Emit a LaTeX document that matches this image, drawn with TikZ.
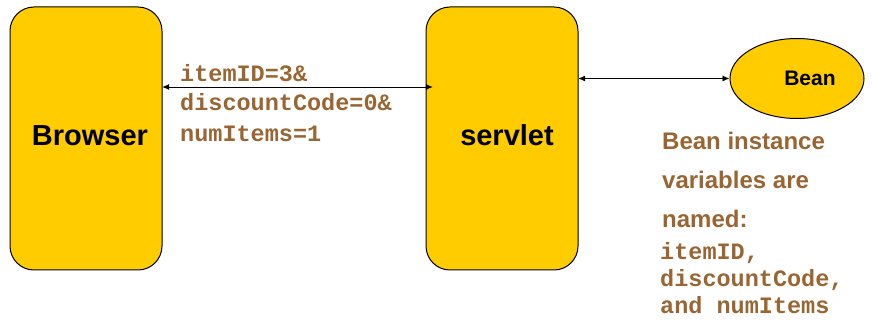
\documentclass[tikz,border=0pt]{standalone}
\usepackage{fontspec}
\setmainfont{Liberation Sans}
\newfontfamily\codefont{Liberation Mono}
\usetikzlibrary{arrows.meta,shapes.geometric}
\definecolor{boxyellow}{HTML}{FFCC00}
\definecolor{textbrown}{HTML}{996633}
\tikzset{
  compbox/.style={draw=black, line width=1pt, fill=boxyellow, rounded corners=24pt},
  biarrow/.style={{Latex[length=7pt,width=6pt]}-{Latex[length=7pt,width=6pt]}, line width=0.9pt},
  codetext/.style={text=textbrown, font=\codefont\bfseries\fontsize{23.5}{30}\selectfont, anchor=base west, inner sep=0pt},
  notetext/.style={text=textbrown, font=\bfseries\fontsize{24}{39}\selectfont, anchor=base west, inner sep=0pt},
}
\begin{document}
\begin{tikzpicture}[x=1pt,y=-1pt]
\useasboundingbox (0,0) rectangle (875,320);
\draw[compbox] (10,7) rectangle (162,270);
\node (browser) at (86,138.5) [minimum width=152pt, minimum height=263pt, inner sep=0pt] {};
\node[font=\bfseries\fontsize{29}{29}\selectfont] at (90,136) {Browser};
\draw[compbox] (426,7) rectangle (578,270);
\node (servlet) at (502,138.5) [minimum width=152pt, minimum height=263pt, inner sep=0pt] {};
\node[font=\bfseries\fontsize{29}{29}\selectfont] at (507,135) {servlet};
\node (bean) [ellipse, draw=black, line width=1pt, fill=boxyellow, minimum width=134pt, minimum height=80pt, inner sep=0pt] at (797,78.5) {};
\node[font=\bfseries\fontsize{21}{21}\selectfont] at (810,78) {Bean};
\draw[biarrow, shorten >=-7pt] (browser.east |- 0,87) -- (servlet.west |- 0,87);
\draw[biarrow] (servlet.east |- 0,78.5) -- (bean.west);
\node[codetext] (q1) at (180,82) {itemID=3\&};
\node[codetext] (q2) at (180,111) {discountCode=0\&};
\node[codetext] (q3) at (180,142) {numItems=1};
\node[notetext] (n1) at (662,150) {Bean instance};
\node[notetext] (n2) at (662,189) {variables are};
\node[notetext] (n3) at (662,228) {named:};
\node[codetext] (v1) at (660,260) {itemID,};
\node[codetext] (v2) at (660,287) {discountCode,};
\node[codetext] (v3) at (660,313) {and numItems};
\end{tikzpicture}
\end{document}
